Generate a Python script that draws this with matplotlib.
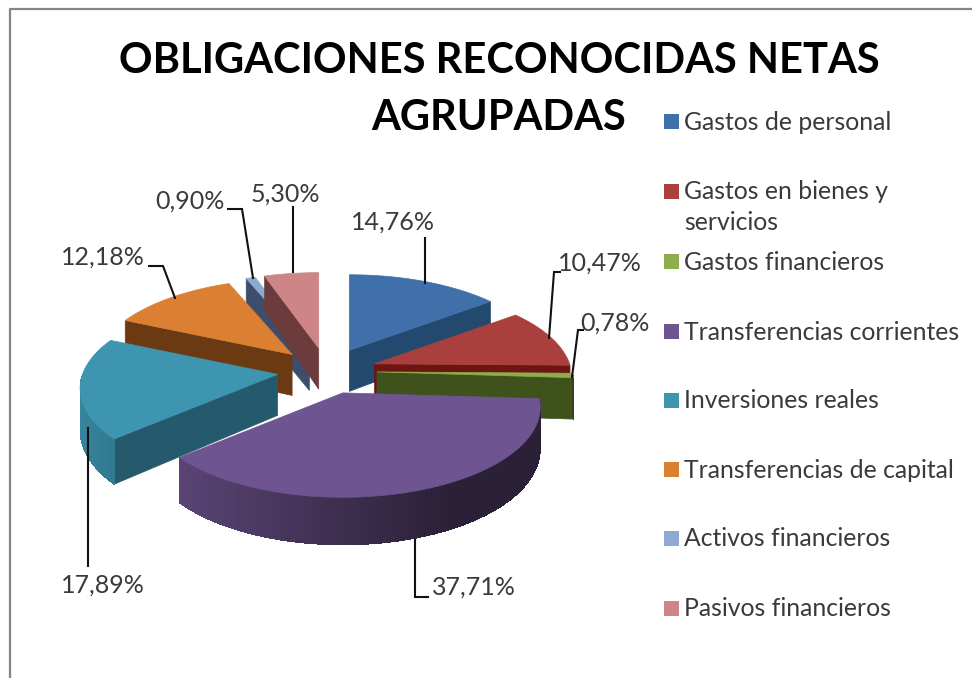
import numpy as np
import matplotlib
matplotlib.use('Agg')
import matplotlib.pyplot as plt
from matplotlib.patches import Polygon, Rectangle
from matplotlib.colors import to_rgb

categories = ['Gastos de personal', 'Gastos en bienes y\nservicios', 'Gastos financieros',
              'Transferencias corrientes', 'Inversiones reales', 'Transferencias de capital',
              'Activos financieros', 'Pasivos financieros']
values = [14.76, 10.47, 0.78, 37.71, 17.89, 12.18, 0.90, 5.30]
title_lines = ['OBLIGACIONES RECONOCIDAS NETAS', 'AGRUPADAS']

top_colors = ['#3F70A9', '#AA403D', '#8DAE4B', '#6E5490', '#3D95B0', '#DB7F33', '#8EA9D2', '#CE8585']
face_colors = ['#24496F', '#6C1512', '#40521B', '#2A2038', '#255A6C', '#6B3A13', '#3D4E6C', '#6C3C3C']

# drawing order, back to front
order = [6, 7, 0, 5, 1, 2, 4, 3]

# pie geometry in pixels
cx, cy = 327, 371
rx, ry = 195, 90
persp = 0.16
depth = 41
explode = 50

# data label text position and leader line path
label_pos = [(393, 222), (600, 263), (615, 323), (474, 587), (103, 585), (103, 257), (190, 201), (285, 194)]
leaders = [
    [(425, 238), (425, 283)],
    [(560, 272), (554, 272), (549, 338)],
    [(583, 330), (578, 330), (572, 377)],
    [(415, 540), (415, 597), (428, 597)],
    [(88, 428), (88, 566)],
    [(175, 298), (163, 266), (149, 266)],
    [(253, 278), (242, 209), (228, 209)],
    [(293, 207), (293, 272)],
]
legend_y = [121, 191, 261, 331, 400, 469, 538, 608]


def rim(apex, ang):
    u, v = np.sin(ang), -np.cos(ang)
    s = 1 + persp * v
    return apex[0] + rx * u * s, apex[1] + ry * v * s, depth * s


def shade(col, f):
    return tuple(c * f for c in to_rgb(col))


def draw_slice(ax, i, a0, a1):
    mid = (a0 + a1) / 2
    apex = (cx + explode * np.sin(mid), cy - explode * ry / rx * np.cos(mid))
    ang = np.linspace(a0, a1, max(int(np.degrees(a1 - a0)), 2) + 1)
    x, y, d = rim(apex, ang)
    top = top_colors[i]

    # radial cut faces, only the ones turned to the viewer
    if a0 > np.pi:
        pts = [apex, (x[0], y[0]), (x[0], y[0] + d[0]), (apex[0], apex[1] + depth)]
        ax.add_patch(Polygon(pts, fc=face_colors[i], ec=face_colors[i], lw=0.5))
    if a1 < np.pi:
        pts = [apex, (x[-1], y[-1]), (x[-1], y[-1] + d[-1]), (apex[0], apex[1] + depth)]
        ax.add_patch(Polygon(pts, fc=face_colors[i], ec=face_colors[i], lw=0.5))

    # outer wall, darker towards the right
    front = np.cos(ang) <= 0
    if front.sum() > 1:
        fx, fy, fd = x[front], y[front], d[front]
        base = shade(top, 0.55)
        outline = list(zip(fx, fy)) + list(zip(fx[::-1], (fy + fd)[::-1]))
        ax.add_patch(Polygon(outline, fc=base, ec='none'))
        fa = ang[front]
        for k in range(len(fa) - 1):
            f = max(0.38, 0.55 - 0.35 * np.sin((fa[k] + fa[k + 1]) / 2))
            pts = [(fx[k], fy[k]), (fx[k + 1], fy[k + 1]),
                   (fx[k + 1], fy[k + 1] + fd[k + 1]), (fx[k], fy[k] + fd[k])]
            ax.add_patch(Polygon(pts, fc=shade(top, f), ec='none', lw=0, antialiased=False))

    pts = [apex] + list(zip(x, y))
    ax.add_patch(Polygon(pts, fc=top, ec=top, lw=0.5))


fig = plt.figure(figsize=(9.72, 6.78), dpi=100)
ax = fig.add_axes([0, 0, 1, 1])
ax.set_xlim(0, 972)
ax.set_ylim(678, 0)
ax.axis('off')

# chart frame
ax.plot([10, 10, 972], [678, 8.5, 8.5], color='#858585', lw=1.6)

edges = np.cumsum([0] + values) / sum(values) * 2 * np.pi
for i in order:
    draw_slice(ax, i, edges[i], edges[i + 1])

for i, path in enumerate(leaders):
    xs, ys = zip(*path)
    ax.plot(xs, ys, color='#111111', lw=1.5, solid_joinstyle='miter')
    txt = ('%.2f%%' % values[i]).replace('.', ',')
    ax.text(label_pos[i][0], label_pos[i][1], txt, ha='center', va='center',
            fontsize=18, family='Lato', color='#3A3A3A')

for line, x, y in zip(title_lines, [499, 499], [61, 118]):
    ax.text(x, y, line, ha='center', va='center', fontsize=30, family='Lato',
            weight='bold', color='black')

for i, name in enumerate(categories):
    y = legend_y[i]
    ax.add_patch(Rectangle((664, y - 7), 15, 15, fc=top_colors[i], ec='none'))
    ax.text(684, y + 1 if '\n' not in name else y + 16, name, ha='left', va='center',
            fontsize=17.8, family='Lato', color='#3A3A3A', linespacing=1.42)

fig.savefig('out.png', dpi=100)
